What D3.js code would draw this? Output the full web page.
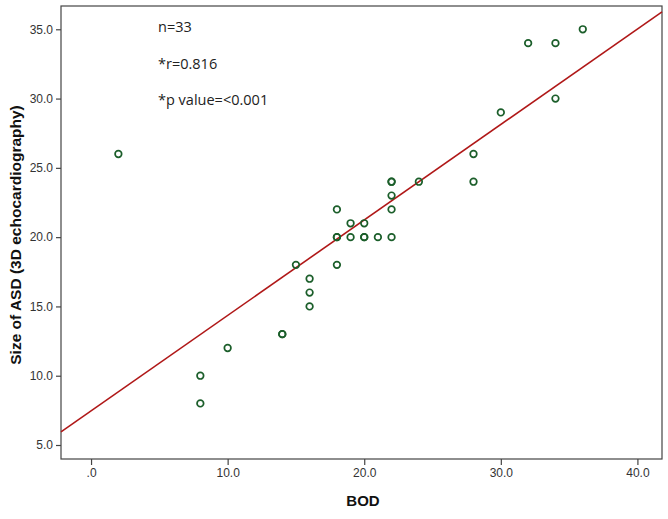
<!DOCTYPE html>
<html>
<head>
<meta charset="utf-8">
<script src="https://cdn.jsdelivr.net/npm/d3@7"></script>
<style>
  body { margin: 0; background: #fff; }
  svg { display: block; }
</style>
</head>
<body>
<svg id="chart" width="668" height="519"></svg>
<script>
// data (BOD vs ASD size)
var bodValues = [2, 8, 8, 10, 14, 14, 15, 16, 16, 16, 18, 18, 18, 18, 19, 19, 20, 20, 20, 21,
                 22, 22, 22, 22, 22, 24, 28, 28, 30, 32, 34, 34, 36];
var asdValues = [26, 10, 8, 12, 13, 13, 18, 17, 16, 15, 22, 20, 20, 18, 21, 20, 21, 20, 20, 20,
                 24, 24, 23, 22, 20, 24, 26, 24, 29, 34, 34, 30, 35];
var xTicks = [0, 10, 20, 30, 40];
var yTicks = [5, 10, 15, 20, 25, 30, 35];
var fitLine = { intercept: 7.46, slope: 0.689 };
var notes = ["n=33", "*r=0.816", "*p value=<0.001"];

(function() {
  var svg = d3.select("#chart");
  var pLeft = 61, pRight = 662, pTop = 6, pBottom = 459;

  var x = d3.scaleLinear().domain([-2.2, 41.8]).range([pLeft, pRight]);
  var y = d3.scaleLinear().domain([3.99, 36.68]).range([pBottom, pTop]);

  // frame
  svg.append("rect")
    .attr("x", pLeft).attr("y", pTop)
    .attr("width", pRight - pLeft).attr("height", pBottom - pTop)
    .attr("fill", "#fff").attr("stroke", "#444").attr("stroke-width", 1.2);

  var fmt = function(d) { return d === 0 ? ".0" : d3.format(".1f")(d); };

  var xAxis = svg.append("g")
    .attr("transform", "translate(0," + pBottom + ")")
    .call(d3.axisBottom(x).tickValues(xTicks).tickFormat(fmt).tickSize(6).tickSizeOuter(0));
  var yAxis = svg.append("g")
    .attr("transform", "translate(" + pLeft + ",0)")
    .call(d3.axisLeft(y).tickValues(yTicks).tickFormat(fmt).tickSize(5).tickSizeOuter(0));

  [xAxis, yAxis].forEach(function(g) {
    g.select(".domain").remove();
    g.selectAll(".tick line").attr("stroke", "#444").attr("stroke-width", 1.2);
    g.selectAll("text")
      .attr("fill", "#333")
      .style("font-family", "'Liberation Sans', Arial, sans-serif")
      .style("font-size", "12px");
  });
  xAxis.selectAll("text").attr("dy", "0.71em").attr("y", 9);
  yAxis.selectAll("text").attr("x", -8);

  // fit line
  var plot = svg.append("g");
  var xd = x.domain();
  plot.append("line")
    .attr("x1", x(xd[0])).attr("y1", y(fitLine.intercept + fitLine.slope * xd[0]))
    .attr("x2", x(xd[1])).attr("y2", y(fitLine.intercept + fitLine.slope * xd[1]))
    .attr("stroke", "#b01818").attr("stroke-width", 1.6);

  // points
  plot.selectAll("circle")
    .data(d3.range(bodValues.length))
    .enter().append("circle")
    .attr("cx", function(i) { return x(bodValues[i]); })
    .attr("cy", function(i) { return y(asdValues[i]); })
    .attr("r", 3.3)
    .attr("fill", "none")
    .attr("stroke", "#1b5e2a")
    .attr("stroke-width", 1.7);

  // annotations
  svg.selectAll(".note")
    .data(notes)
    .enter().append("text")
    .attr("class", "note")
    .attr("x", 158)
    .attr("y", function(d, i) { return 32 + i * 36.5; })
    .attr("fill", "#222")
    .style("font-family", "'Open Sans', 'Liberation Sans', sans-serif")
    .style("font-size", "14.5px")
    .text(function(d) { return d; });

  // axis titles
  svg.append("text")
    .attr("x", 363).attr("y", 506)
    .attr("text-anchor", "middle")
    .attr("fill", "#111")
    .style("font-family", "'Liberation Sans', Arial, sans-serif")
    .style("font-size", "15px").style("font-weight", "bold")
    .text("BOD");

  svg.append("text")
    .attr("transform", "translate(21,235) rotate(-90)")
    .attr("text-anchor", "middle")
    .attr("fill", "#111")
    .style("font-family", "'Liberation Sans', Arial, sans-serif")
    .style("font-size", "15.5px").style("font-weight", "bold")
    .text("Size of ASD (3D echocardiography)");
})();
</script>
</body>
</html>
